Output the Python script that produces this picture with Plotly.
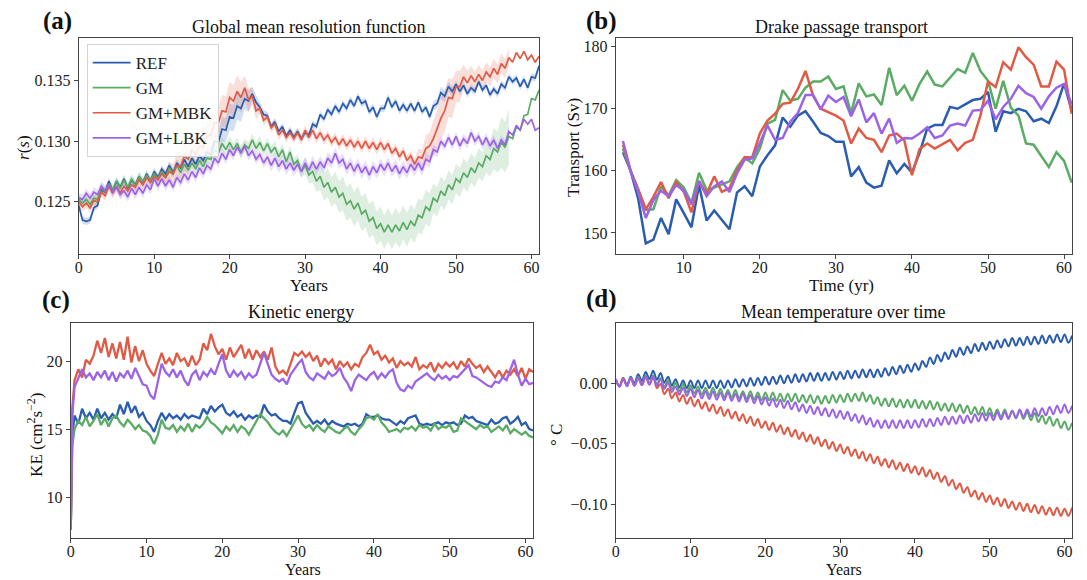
import plotly.graph_objects as go

FONT = "Liberation Serif"
W, H = 1087, 580

SERIES = ["REF", "GM", "GM+MBK", "GM+LBK"]
COLORS = {"REF": "#2a5db0", "GM": "#5aab63", "GM+MBK": "#e05a45", "GM+LBK": "#9b63e6"}
BAND_COLORS = {"REF": "rgba(42,93,176,0.2)", "GM": "rgba(90,171,99,0.2)",
               "GM+MBK": "rgba(224,90,69,0.2)", "GM+LBK": "rgba(155,99,230,0.2)"}

# ---------------- (a) global mean resolution function r(s), half-year samples ----------------
years_a = [0.5 * k for k in range(123)]
res_ref = [
    0.1247, 0.1235, 0.1234, 0.1235, 0.1245, 0.1247, 0.1260, 0.1258, 0.1267, 0.1259,
    0.1267, 0.1262, 0.1269, 0.1261, 0.1268, 0.1264, 0.1271, 0.1266, 0.1273, 0.1267,
    0.1275, 0.1270, 0.1277, 0.1273, 0.1280, 0.1274, 0.1282, 0.1278, 0.1285, 0.1279,
    0.1286, 0.1281, 0.1288, 0.1284, 0.1291, 0.1289, 0.1300, 0.1299, 0.1310, 0.1309,
    0.1320, 0.1319, 0.1329, 0.1327, 0.1335, 0.1333, 0.1339, 0.1332, 0.1328, 0.1322,
    0.1321, 0.1312, 0.1316, 0.1308, 0.1312, 0.1304, 0.1309, 0.1303, 0.1308, 0.1302,
    0.1307, 0.1305, 0.1314, 0.1312, 0.1322, 0.1318, 0.1326, 0.1322, 0.1329, 0.1324,
    0.1331, 0.1327, 0.1334, 0.1329, 0.1337, 0.1331, 0.1333, 0.1324, 0.1328, 0.1320,
    0.1327, 0.1327, 0.1336, 0.1328, 0.1333, 0.1325, 0.1330, 0.1325, 0.1331, 0.1325,
    0.1332, 0.1324, 0.1328, 0.1320, 0.1329, 0.1331, 0.1340, 0.1337, 0.1345, 0.1341,
    0.1347, 0.1341, 0.1346, 0.1339, 0.1344, 0.1341, 0.1349, 0.1342, 0.1346, 0.1338,
    0.1343, 0.1339, 0.1347, 0.1344, 0.1353, 0.1349, 0.1352, 0.1345, 0.1351, 0.1344,
    0.1353, 0.1352, 0.1362,
]
res_gm = [
    0.1252, 0.1249, 0.1252, 0.1248, 0.1253, 0.1252, 0.1262, 0.1258, 0.1265, 0.1260,
    0.1267, 0.1261, 0.1268, 0.1262, 0.1269, 0.1263, 0.1271, 0.1266, 0.1272, 0.1267,
    0.1273, 0.1269, 0.1275, 0.1270, 0.1278, 0.1273, 0.1280, 0.1274, 0.1281, 0.1276,
    0.1282, 0.1277, 0.1284, 0.1279, 0.1286, 0.1285, 0.1293, 0.1290, 0.1298, 0.1293,
    0.1299, 0.1293, 0.1298, 0.1291, 0.1297, 0.1294, 0.1301, 0.1294, 0.1299, 0.1292,
    0.1298, 0.1291, 0.1295, 0.1287, 0.1293, 0.1283, 0.1291, 0.1281, 0.1284, 0.1275,
    0.1280, 0.1272, 0.1275, 0.1267, 0.1271, 0.1262, 0.1266, 0.1258, 0.1262, 0.1254,
    0.1257, 0.1248, 0.1251, 0.1244, 0.1249, 0.1240, 0.1243, 0.1234, 0.1237, 0.1228,
    0.1232, 0.1225, 0.1231, 0.1225, 0.1231, 0.1226, 0.1233, 0.1227, 0.1234, 0.1230,
    0.1239, 0.1237, 0.1246, 0.1243, 0.1253, 0.1250, 0.1259, 0.1255, 0.1264, 0.1260,
    0.1269, 0.1266, 0.1274, 0.1270, 0.1278, 0.1274, 0.1282, 0.1279, 0.1288, 0.1285,
    0.1294, 0.1291, 0.1299, 0.1295, 0.1304, 0.1302, 0.1312, 0.1309, 0.1321, 0.1322,
    0.1335, 0.1334, 0.1342,
]
res_mbk = [
    0.1250, 0.1246, 0.1249, 0.1245, 0.1251, 0.1250, 0.1258, 0.1255, 0.1263, 0.1257,
    0.1263, 0.1257, 0.1263, 0.1259, 0.1264, 0.1262, 0.1268, 0.1264, 0.1270, 0.1266,
    0.1271, 0.1268, 0.1273, 0.1270, 0.1275, 0.1273, 0.1280, 0.1279, 0.1288, 0.1285,
    0.1293, 0.1289, 0.1296, 0.1295, 0.1304, 0.1305, 0.1315, 0.1315, 0.1325, 0.1324,
    0.1336, 0.1333, 0.1341, 0.1336, 0.1344, 0.1334, 0.1337, 0.1325, 0.1327, 0.1317,
    0.1320, 0.1311, 0.1314, 0.1305, 0.1309, 0.1303, 0.1307, 0.1302, 0.1307, 0.1301,
    0.1309, 0.1303, 0.1309, 0.1302, 0.1307, 0.1301, 0.1305, 0.1299, 0.1303, 0.1297,
    0.1302, 0.1296, 0.1301, 0.1295, 0.1300, 0.1294, 0.1300, 0.1294, 0.1299, 0.1293,
    0.1299, 0.1293, 0.1298, 0.1290, 0.1294, 0.1287, 0.1292, 0.1284, 0.1288, 0.1281,
    0.1287, 0.1286, 0.1294, 0.1296, 0.1302, 0.1310, 0.1319, 0.1325, 0.1336, 0.1335,
    0.1345, 0.1345, 0.1353, 0.1348, 0.1354, 0.1349, 0.1355, 0.1350, 0.1357, 0.1353,
    0.1360, 0.1355, 0.1364, 0.1360, 0.1369, 0.1365, 0.1373, 0.1368, 0.1374, 0.1367,
    0.1371, 0.1365, 0.1370,
]
res_lbk = [
    0.1253, 0.1252, 0.1257, 0.1253, 0.1258, 0.1256, 0.1263, 0.1259, 0.1264, 0.1258,
    0.1262, 0.1256, 0.1259, 0.1254, 0.1261, 0.1256, 0.1262, 0.1257, 0.1264, 0.1260,
    0.1269, 0.1263, 0.1269, 0.1263, 0.1268, 0.1262, 0.1270, 0.1266, 0.1273, 0.1268,
    0.1275, 0.1270, 0.1278, 0.1273, 0.1280, 0.1277, 0.1286, 0.1282, 0.1290, 0.1285,
    0.1293, 0.1288, 0.1295, 0.1290, 0.1296, 0.1288, 0.1292, 0.1285, 0.1289, 0.1282,
    0.1287, 0.1280, 0.1286, 0.1279, 0.1284, 0.1277, 0.1282, 0.1276, 0.1281, 0.1275,
    0.1282, 0.1276, 0.1283, 0.1277, 0.1283, 0.1278, 0.1286, 0.1282, 0.1290, 0.1282,
    0.1285, 0.1277, 0.1282, 0.1275, 0.1281, 0.1274, 0.1279, 0.1272, 0.1279, 0.1274,
    0.1281, 0.1276, 0.1282, 0.1275, 0.1280, 0.1273, 0.1279, 0.1274, 0.1281, 0.1276,
    0.1282, 0.1276, 0.1285, 0.1283, 0.1293, 0.1291, 0.1300, 0.1296, 0.1303, 0.1297,
    0.1304, 0.1296, 0.1302, 0.1298, 0.1307, 0.1300, 0.1304, 0.1297, 0.1303, 0.1296,
    0.1301, 0.1294, 0.1301, 0.1297, 0.1308, 0.1305, 0.1313, 0.1309, 0.1318, 0.1314,
    0.1318, 0.1309, 0.1311,
]
# ensemble spread (half-width) for each whole year of the run
spread_ref = [
    0.0003, 0.0003, 0.0003, 0.0003, 0.0003, 0.0003, 0.0003, 0.0003, 0.0003, 0.0003,
    0.0003, 0.0003, 0.0003, 0.0003, 0.0003, 0.0003, 0.0003, 0.0005, 0.0008, 0.0010,
    0.0011, 0.0011, 0.0009, 0.0006, 0.0004, 0.0003, 0.0003, 0.0003, 0.0003, 0.0003,
    0.0003, 0.0003, 0.0003, 0.0003, 0.0003, 0.0003, 0.0003, 0.0003, 0.0003, 0.0003,
    0.0003, 0.0003, 0.0003, 0.0003, 0.0003, 0.0003, 0.0003, 0.0004, 0.0005, 0.0004,
    0.0003, 0.0003, 0.0003, 0.0003, 0.0003, 0.0003, 0.0003, 0.0003, 0.0003, 0.0003,
    0.0003, 0.0003,
]
spread_gm = [
    0.0004, 0.0004, 0.0004, 0.0004, 0.0004, 0.0004, 0.0004, 0.0004, 0.0004, 0.0004,
    0.0004, 0.0004, 0.0004, 0.0004, 0.0004, 0.0004, 0.0004, 0.0004, 0.0005, 0.0005,
    0.0005, 0.0005, 0.0005, 0.0005, 0.0005, 0.0005, 0.0005, 0.0005, 0.0005, 0.0005,
    0.0007, 0.0009, 0.0011, 0.0012, 0.0013, 0.0014, 0.0014, 0.0014, 0.0014, 0.0014,
    0.0014, 0.0014, 0.0014, 0.0014, 0.0014, 0.0014, 0.0014, 0.0012, 0.0012, 0.0012,
    0.0012, 0.0012, 0.0012, 0.0012, 0.0014, 0.0017, 0.0021, 0.0023,
]
spread_mbk = [
    0.0004, 0.0004, 0.0004, 0.0004, 0.0004, 0.0004, 0.0004, 0.0004, 0.0004, 0.0004,
    0.0004, 0.0006, 0.0008, 0.0010, 0.0013, 0.0013, 0.0013, 0.0013, 0.0013, 0.0013,
    0.0013, 0.0013, 0.0010, 0.0007, 0.0004, 0.0004, 0.0004, 0.0004, 0.0004, 0.0004,
    0.0004, 0.0004, 0.0004, 0.0004, 0.0004, 0.0004, 0.0004, 0.0004, 0.0004, 0.0004,
    0.0004, 0.0004, 0.0004, 0.0004, 0.0004, 0.0007, 0.0011, 0.0015, 0.0017, 0.0016,
    0.0013, 0.0010, 0.0008, 0.0008, 0.0008, 0.0008, 0.0008, 0.0008,
]
spread_lbk = [
    0.0004, 0.0004, 0.0004, 0.0004, 0.0004, 0.0004, 0.0004, 0.0004, 0.0004, 0.0004,
    0.0004, 0.0004, 0.0004, 0.0004, 0.0004, 0.0004, 0.0004, 0.0004, 0.0004, 0.0004,
    0.0004, 0.0004, 0.0004, 0.0004, 0.0004, 0.0005, 0.0005, 0.0005, 0.0005, 0.0005,
    0.0005, 0.0005, 0.0005, 0.0005, 0.0005, 0.0005, 0.0005, 0.0005, 0.0005, 0.0005,
    0.0005, 0.0005, 0.0005, 0.0005, 0.0005, 0.0005, 0.0005, 0.0004, 0.0004, 0.0004,
    0.0004, 0.0004, 0.0004, 0.0004, 0.0004, 0.0004, 0.0004, 0.0004,
]

# ---------------- (b) Drake passage transport (Sv), yearly ----------------
years_b = list(range(2, 62))
drake_ref = [
    163.0, 160.0, 155.5, 148.3, 148.9, 152.4, 149.8, 155.4, 153.2, 150.9,
    157.7, 152.0, 153.6, 152.1, 150.6, 156.5, 157.5, 155.9, 160.7, 162.5,
    164.1, 168.6, 167.1, 168.9, 169.6, 167.9, 166.1, 165.6, 164.7, 164.7,
    159.1, 160.6, 158.1, 157.3, 157.6, 161.7, 159.6, 161.1, 159.7, 162.9,
    166.8, 167.4, 167.4, 170.3, 170.0, 170.7, 171.4, 171.6, 172.7, 166.3,
    169.6, 169.3, 170.0, 169.6, 168.0, 168.4, 167.7, 170.4, 174.1, 169.7,
]
drake_gm = [
    163.6, 160.0, 157.0, 153.7, 153.8, 157.5, 156.0, 158.5, 157.3, 154.8,
    159.7, 156.9, 157.3, 157.8, 158.3, 160.6, 162.2, 161.2, 163.6, 167.6,
    168.2, 173.0, 171.3, 171.6, 173.4, 174.4, 174.4, 175.2, 173.2, 173.6,
    169.3, 174.1, 172.0, 172.3, 170.6, 176.6, 172.2, 173.7, 171.3, 174.0,
    176.0, 173.9, 173.6, 175.0, 176.4, 175.8, 179.0, 176.1, 174.5, 170.0,
    174.5, 170.2, 168.9, 164.4, 164.2, 162.4, 160.6, 163.0, 161.6, 158.1,
]
drake_mbk = [
    164.2, 160.0, 157.0, 153.8, 155.8, 158.2, 155.6, 158.2, 156.6, 153.3,
    158.4, 156.3, 159.1, 156.6, 157.2, 160.1, 162.2, 162.2, 166.0, 168.1,
    169.2, 170.8, 171.0, 173.2, 176.1, 172.1, 170.0, 169.5, 168.9, 168.1,
    164.4, 166.8, 165.3, 165.0, 163.0, 165.7, 166.0, 164.9, 159.3, 163.5,
    164.4, 163.6, 164.3, 165.0, 163.3, 164.5, 165.0, 168.9, 174.4, 173.5,
    177.5, 176.3, 179.9, 178.3, 177.1, 173.6, 173.6, 177.6, 176.3, 169.2,
]
drake_lbk = [
    164.8, 160.0, 156.5, 152.4, 155.3, 156.8, 155.9, 157.7, 156.8, 154.6,
    158.3, 155.9, 157.5, 158.3, 156.6, 159.6, 161.8, 162.0, 164.5, 167.3,
    165.0, 165.3, 167.9, 169.3, 172.2, 172.2, 169.9, 172.1, 171.1, 171.9,
    168.8, 171.5, 167.8, 169.3, 166.0, 168.4, 164.5, 165.3, 165.2, 166.0,
    167.0, 165.3, 165.7, 167.3, 167.6, 167.3, 169.7, 169.8, 171.3, 168.3,
    170.3, 171.6, 173.7, 172.5, 171.9, 170.0, 172.0, 173.4, 174.0, 170.7,
]

# ---------------- (c) kinetic energy (cm^2 s^-2) ----------------
years_c = [0.0, 0.2] + [0.5 * k for k in range(1, 123)]
ke_ref = [
    7.7, 14.5,
    16.0, 15.4, 16.5, 15.8, 16.2, 15.7, 16.5, 15.8, 16.2, 15.7,
    16.1, 15.8, 16.8, 16.1, 17.0, 16.2, 16.7, 15.9, 16.2, 15.6,
    15.3, 14.8, 15.6, 16.2, 15.7, 16.1, 15.8, 16.0, 15.7, 16.1,
    15.8, 16.0, 15.9, 15.8, 16.5, 16.1, 16.7, 16.3, 16.6, 16.8,
    16.2, 16.0, 16.3, 15.9, 16.1, 15.7, 16.0, 15.8, 16.0, 15.9,
    16.8, 16.3, 16.0, 16.1, 15.8, 15.6, 15.6, 15.4, 16.2, 16.9,
    17.0, 16.2, 15.8, 15.4, 15.6, 15.4, 15.7, 15.3, 15.6, 15.4,
    15.3, 15.2, 15.4, 15.3, 15.4, 15.2, 15.4, 16.1, 15.9, 15.9,
    16.0, 15.8, 15.7, 15.7, 15.5, 15.3, 15.6, 15.4, 15.8, 15.9,
    16.0, 15.4, 15.3, 15.4, 15.3, 15.4, 15.5, 15.3, 15.5, 15.4,
    15.5, 15.3, 15.4, 16.0, 15.8, 15.9, 15.6, 15.5, 15.4, 15.3,
    15.7, 15.4, 15.5, 15.8, 15.9, 15.4, 15.6, 15.9, 15.3, 15.5,
    15.0, 14.9,
]
ke_gm = [
    7.6, 13.8,
    15.0, 15.6, 15.3, 15.9, 15.2, 15.6, 16.1, 15.3, 15.8, 15.2,
    15.8, 16.0, 15.5, 15.2, 15.7, 15.4, 15.0, 15.3, 14.9, 14.8,
    14.5, 13.9, 14.6, 15.7, 15.1, 15.0, 15.3, 14.8, 15.2, 14.9,
    15.4, 14.8, 15.3, 15.1, 15.4, 15.9, 15.5, 15.3, 15.0, 14.7,
    15.2, 14.9, 15.3, 14.8, 15.2, 15.0, 14.6, 15.1, 15.5, 16.1,
    15.8, 15.5, 15.1, 14.8, 14.6, 14.9, 14.5, 15.0, 15.4, 16.0,
    15.4, 15.1, 15.3, 14.9, 15.3, 15.0, 14.8, 15.2, 15.0, 14.8,
    14.7, 15.0, 15.2, 14.8, 14.6, 15.0, 15.3, 15.8, 15.9, 15.7,
    16.1, 15.5, 15.2, 14.8, 14.9, 15.0, 14.8, 15.1, 15.0, 15.2,
    14.9, 15.3, 15.1, 15.2, 14.9, 15.4, 15.0, 15.2, 15.1, 15.3,
    14.8, 14.9, 15.8, 15.6, 15.4, 15.2, 15.0, 15.3, 15.1, 15.2,
    14.8, 15.0, 15.2, 14.9, 15.3, 14.7, 15.0, 14.8, 14.6, 14.8,
    14.5, 14.4,
]
ke_mbk = [
    7.6, 16.5,
    18.6, 19.4, 18.8, 20.1, 19.8, 20.4, 21.5, 20.6, 21.7, 20.3,
    21.3, 20.2, 21.4, 20.1, 21.8, 19.9, 21.1, 20.0, 20.8, 19.8,
    19.3, 18.9, 19.8, 20.6, 19.8, 20.2, 19.7, 20.6, 20.0, 20.2,
    19.6, 20.4, 19.7, 20.1, 21.3, 20.8, 22.0, 21.1, 20.5, 20.9,
    20.1, 21.0, 20.3, 20.8, 21.2, 20.2, 20.9, 20.1, 20.8, 20.3,
    20.7, 20.1, 21.0, 19.6, 19.1, 19.3, 19.0, 19.8, 20.6, 20.4,
    20.7, 20.3, 20.6, 20.0, 20.4, 19.6, 20.2, 19.8, 20.1, 19.4,
    20.0, 19.6, 19.9, 19.4, 19.8, 19.6, 20.3, 20.6, 21.2, 20.5,
    20.7, 20.1, 20.4, 19.9, 20.2, 19.5, 20.0, 19.7, 19.9, 19.6,
    20.3, 19.4, 19.7, 19.5, 19.9, 19.2, 19.8, 19.5, 19.9, 19.6,
    19.9, 19.4, 20.0, 19.6, 20.2, 19.8, 19.5, 19.7, 19.2, 19.6,
    19.2, 18.8, 19.3, 18.8, 19.3, 19.0, 19.4, 18.9, 19.5, 18.7,
    19.4, 19.2,
]
ke_lbk = [
    7.8, 16.0,
    18.1, 18.7, 19.4, 18.8, 19.1, 18.6, 19.2, 18.8, 19.3, 18.6,
    19.2, 18.5, 19.1, 18.8, 19.3, 18.7, 19.5, 18.9, 18.3, 18.2,
    17.5, 17.2, 18.4, 19.8, 19.2, 18.9, 19.4, 18.8, 19.3, 18.6,
    18.2, 19.0, 19.3, 18.6, 19.2, 18.9, 19.4, 19.0, 19.8, 20.5,
    19.3, 18.8, 19.3, 18.9, 19.2, 18.7, 19.1, 18.8, 19.0, 19.8,
    20.6, 19.8, 19.0, 18.7, 18.5, 18.7, 18.3, 19.0, 19.4, 19.8,
    20.1, 19.2, 18.8, 18.6, 19.1, 18.9, 18.7, 19.2, 18.9, 19.1,
    19.5, 18.8, 18.4, 17.8, 18.6, 19.0, 18.8, 18.6, 19.0, 19.2,
    18.7, 19.1, 18.8, 19.2, 19.4, 18.4, 17.9, 17.8, 18.2, 18.0,
    18.5, 18.7, 18.9, 19.1, 18.8, 18.6, 19.0, 18.7, 18.9, 18.6,
    18.9, 18.8, 19.1, 19.4, 19.7, 18.9, 18.8, 18.6, 18.4, 18.2,
    18.1, 18.5, 18.4, 18.8, 18.6, 19.4, 20.1, 19.0, 18.2, 18.7,
    18.3, 18.4,
]

# ---------------- (d) mean temperature anomaly (deg C), seasonal highs and lows ----------------
years_d = [0.5 * k for k in range(123)]
temp_ref = [
    0.0032, -0.0027, 0.0042, -0.0017, 0.0052, -0.0002, 0.0072, 0.0018, 0.0092, 0.0033,
    0.0102, 0.0028, 0.0082, 0.0003, 0.0052, -0.0022, 0.0032, -0.0037, 0.0022, -0.0042,
    0.0022, -0.0042, 0.0022, -0.0042, 0.0022, -0.0042, 0.0022, -0.0042, 0.0022, -0.0042,
    0.0022, -0.0037, 0.0032, -0.0032, 0.0032, -0.0027, 0.0042, -0.0022, 0.0042, -0.0017,
    0.0052, -0.0012, 0.0052, -0.0007, 0.0062, -0.0002, 0.0062, 0.0003, 0.0072, 0.0008,
    0.0072, 0.0013, 0.0082, 0.0018, 0.0082, 0.0018, 0.0082, 0.0023, 0.0092, 0.0028,
    0.0092, 0.0033, 0.0102, 0.0038, 0.0102, 0.0043, 0.0112, 0.0048, 0.0112, 0.0048,
    0.0112, 0.0053, 0.0122, 0.0063, 0.0132, 0.0073, 0.0142, 0.0083, 0.0152, 0.0093,
    0.0162, 0.0108, 0.0182, 0.0133, 0.0212, 0.0158, 0.0232, 0.0178, 0.0252, 0.0198,
    0.0272, 0.0218, 0.0292, 0.0233, 0.0302, 0.0248, 0.0322, 0.0263, 0.0332, 0.0273,
    0.0342, 0.0283, 0.0352, 0.0293, 0.0362, 0.0303, 0.0372, 0.0308, 0.0372, 0.0313,
    0.0382, 0.0318, 0.0382, 0.0323, 0.0392, 0.0328, 0.0392, 0.0333, 0.0402, 0.0338,
    0.0402, 0.0333, 0.0392,
]
temp_gm = [
    0.0032, -0.0027, 0.0042, -0.0022, 0.0042, -0.0017, 0.0052, -0.0007, 0.0062, -0.0002,
    0.0062, -0.0012, 0.0042, -0.0032, 0.0022, -0.0052, 0.0002, -0.0067, -0.0008, -0.0077,
    -0.0018, -0.0087, -0.0028, -0.0097, -0.0038, -0.0102, -0.0038, -0.0107, -0.0048, -0.0117,
    -0.0058, -0.0122, -0.0058, -0.0127, -0.0068, -0.0132, -0.0068, -0.0137, -0.0078, -0.0142,
    -0.0078, -0.0142, -0.0078, -0.0147, -0.0088, -0.0152, -0.0088, -0.0152, -0.0088, -0.0157,
    -0.0098, -0.0162, -0.0098, -0.0167, -0.0108, -0.0172, -0.0108, -0.0167, -0.0098, -0.0162,
    -0.0098, -0.0157, -0.0088, -0.0152, -0.0088, -0.0147, -0.0078, -0.0152, -0.0098, -0.0172,
    -0.0118, -0.0187, -0.0128, -0.0192, -0.0128, -0.0197, -0.0138, -0.0202, -0.0138, -0.0202,
    -0.0138, -0.0207, -0.0148, -0.0212, -0.0148, -0.0217, -0.0158, -0.0227, -0.0168, -0.0232,
    -0.0168, -0.0237, -0.0178, -0.0247, -0.0188, -0.0257, -0.0198, -0.0262, -0.0198, -0.0267,
    -0.0208, -0.0277, -0.0218, -0.0282, -0.0218, -0.0287, -0.0228, -0.0292, -0.0228, -0.0297,
    -0.0238, -0.0307, -0.0248, -0.0322, -0.0268, -0.0337, -0.0278, -0.0352, -0.0298, -0.0372,
    -0.0318, -0.0387, -0.0328,
]
temp_mbk = [
    0.0032, -0.0027, 0.0042, -0.0022, 0.0042, -0.0022, 0.0042, -0.0017, 0.0052, -0.0012,
    0.0052, -0.0042, -0.0008, -0.0092, -0.0048, -0.0127, -0.0078, -0.0152, -0.0098, -0.0172,
    -0.0118, -0.0192, -0.0138, -0.0212, -0.0158, -0.0232, -0.0178, -0.0252, -0.0198, -0.0272,
    -0.0218, -0.0292, -0.0238, -0.0312, -0.0258, -0.0332, -0.0278, -0.0352, -0.0298, -0.0372,
    -0.0318, -0.0387, -0.0328, -0.0402, -0.0348, -0.0422, -0.0368, -0.0442, -0.0388, -0.0462,
    -0.0408, -0.0482, -0.0428, -0.0502, -0.0448, -0.0522, -0.0468, -0.0542, -0.0488, -0.0562,
    -0.0508, -0.0582, -0.0528, -0.0602, -0.0548, -0.0622, -0.0568, -0.0642, -0.0588, -0.0662,
    -0.0608, -0.0682, -0.0628, -0.0697, -0.0638, -0.0712, -0.0658, -0.0727, -0.0668, -0.0742,
    -0.0688, -0.0757, -0.0698, -0.0772, -0.0718, -0.0792, -0.0738, -0.0817, -0.0768, -0.0847,
    -0.0798, -0.0877, -0.0828, -0.0907, -0.0858, -0.0937, -0.0888, -0.0962, -0.0908, -0.0982,
    -0.0928, -0.1002, -0.0948, -0.1017, -0.0958, -0.1032, -0.0978, -0.1047, -0.0988, -0.1057,
    -0.0998, -0.1067, -0.1008, -0.1077, -0.1018, -0.1087, -0.1028, -0.1092, -0.1028, -0.1097,
    -0.1038, -0.1097, -0.1028,
]
temp_lbk = [
    0.0032, -0.0032, 0.0032, -0.0027, 0.0042, -0.0022, 0.0042, -0.0017, 0.0052, -0.0012,
    0.0052, -0.0022, 0.0032, -0.0047, 0.0002, -0.0077, -0.0028, -0.0097, -0.0038, -0.0107,
    -0.0048, -0.0117, -0.0058, -0.0127, -0.0068, -0.0132, -0.0068, -0.0137, -0.0078, -0.0142,
    -0.0078, -0.0147, -0.0088, -0.0152, -0.0088, -0.0157, -0.0098, -0.0167, -0.0108, -0.0177,
    -0.0118, -0.0187, -0.0128, -0.0197, -0.0138, -0.0207, -0.0148, -0.0217, -0.0158, -0.0232,
    -0.0178, -0.0247, -0.0188, -0.0257, -0.0198, -0.0267, -0.0208, -0.0277, -0.0218, -0.0287,
    -0.0228, -0.0297, -0.0238, -0.0312, -0.0258, -0.0327, -0.0268, -0.0342, -0.0288, -0.0362,
    -0.0308, -0.0372, -0.0308, -0.0372, -0.0308, -0.0372, -0.0308, -0.0372, -0.0308, -0.0372,
    -0.0308, -0.0367, -0.0298, -0.0362, -0.0298, -0.0357, -0.0288, -0.0347, -0.0278, -0.0342,
    -0.0278, -0.0337, -0.0268, -0.0332, -0.0268, -0.0327, -0.0258, -0.0317, -0.0248, -0.0312,
    -0.0248, -0.0307, -0.0238, -0.0302, -0.0238, -0.0297, -0.0228, -0.0287, -0.0218, -0.0282,
    -0.0218, -0.0277, -0.0208, -0.0272, -0.0208, -0.0267, -0.0198, -0.0257, -0.0188, -0.0247,
    -0.0178, -0.0247, -0.0188,
]

res = dict(zip(SERIES, [res_ref, res_gm, res_mbk, res_lbk]))
spread = dict(zip(SERIES, [spread_ref, spread_gm, spread_mbk, spread_lbk]))
drake = dict(zip(SERIES, [drake_ref, drake_gm, drake_mbk, drake_lbk]))
ke = dict(zip(SERIES, [ke_ref, ke_gm, ke_mbk, ke_lbk]))
temp = dict(zip(SERIES, [temp_ref, temp_gm, temp_mbk, temp_lbk]))

for label, xs, table in [("a", years_a, res), ("b", years_b, drake),
                         ("c", years_c, ke), ("d", years_d, temp)]:
    for name, ys in table.items():
        if len(ys) != len(xs):
            raise ValueError(f"panel {label} {name}: {len(ys)} values for {len(xs)} times")

fig = go.Figure()

# (a) shaded ensemble spread, then the mean lines
for name in SERIES:
    s = spread[name]
    pts = [(x, y) for x, y in zip(years_a, res[name]) if x <= len(s) - 1]
    bx = [p[0] for p in pts]
    upper = [p[1] + s[int(p[0])] for p in pts]
    lower = [p[1] - s[int(p[0])] for p in pts]
    fig.add_trace(go.Scatter(
        x=bx + bx[::-1], y=upper + lower[::-1], fill="toself", mode="none",
        fillcolor=BAND_COLORS[name], showlegend=False, hoverinfo="skip",
        xaxis="x", yaxis="y"))
for name in SERIES:
    fig.add_trace(go.Scatter(
        x=years_a, y=res[name], mode="lines", name=name,
        line=dict(color=COLORS[name], width=1.7), xaxis="x", yaxis="y"))

for name in SERIES:
    fig.add_trace(go.Scatter(
        x=years_b, y=drake[name], mode="lines", showlegend=False,
        line=dict(color=COLORS[name], width=2.5), xaxis="x2", yaxis="y2"))

for name in SERIES:
    fig.add_trace(go.Scatter(
        x=years_c, y=ke[name], mode="lines", showlegend=False,
        line=dict(color=COLORS[name], width=2.3), xaxis="x3", yaxis="y3"))

for name in SERIES:
    fig.add_trace(go.Scatter(
        x=years_d, y=temp[name], mode="lines", showlegend=False,
        line=dict(color=COLORS[name], width=2, shape="spline", smoothing=1.0),
        xaxis="x4", yaxis="y4"))


def px_x(p):
    return p / W


def px_y(p):
    return 1 - p / H


AXIS_STYLE = dict(
    showline=True, mirror=True, linecolor="#444444", linewidth=1,
    ticks="outside", ticklen=4, tickwidth=1, tickcolor="#444444",
    showgrid=False, zeroline=False,
    tickfont=dict(family=FONT, size=16, color="#222222"),
)
X_STYLE = dict(AXIS_STYLE, ticklabelstandoff=-5)

dom_a = ([px_x(75), px_x(537)], [px_y(254), px_y(38)])
dom_b = ([px_x(614), px_x(1072)], [px_y(254), px_y(38)])
dom_c = ([px_x(67), px_x(531)], [px_y(538), px_y(323)])
dom_d = ([px_x(614), px_x(1072)], [px_y(538), px_y(323)])

fig.update_layout(
    width=W, height=H, margin=dict(l=0, r=0, t=0, b=0),
    paper_bgcolor="white", plot_bgcolor="white",
    font=dict(family=FONT, color="#222222"),
    xaxis=dict(domain=dom_a[0], anchor="y", range=[0, 61], tickvals=[0, 10, 20, 30, 40, 50, 60], **X_STYLE),
    yaxis=dict(domain=dom_a[1], anchor="x", range=[0.1207, 0.1385], tickvals=[0.125, 0.130, 0.135],
               tickformat=".3f", **AXIS_STYLE),
    xaxis2=dict(domain=dom_b[0], anchor="y2", range=[1.05, 61.05], tickvals=[10, 20, 30, 40, 50, 60], **X_STYLE),
    yaxis2=dict(domain=dom_b[1], anchor="x2", range=[146.6, 181.4], tickvals=[150, 160, 170, 180], **AXIS_STYLE),
    xaxis3=dict(domain=dom_c[0], anchor="y3", range=[0, 61], tickvals=[0, 10, 20, 30, 40, 50, 60], **X_STYLE),
    yaxis3=dict(domain=dom_c[1], anchor="x3", range=[7.0, 22.8], tickvals=[10, 15, 20], **AXIS_STYLE),
    xaxis4=dict(domain=dom_d[0], anchor="y4", range=[0, 61], tickvals=[0, 10, 20, 30, 40, 50, 60], **X_STYLE),
    yaxis4=dict(domain=dom_d[1], anchor="x4", range=[-0.128, 0.0496], tickvals=[-0.10, -0.05, 0.0],
                tickformat=".2f", **AXIS_STYLE),
    legend=dict(
        x=px_x(83), y=px_y(44), xanchor="left", yanchor="top",
        bgcolor="rgba(255,255,255,0.85)", bordercolor="#d4d4d4", borderwidth=1,
        font=dict(family=FONT, size=17, color="#222222"), itemwidth=38,
    ),
)

annotations = []


def text(x, y, s, size, angle=0, bold=False):
    annotations.append(dict(
        x=px_x(x), y=px_y(y), xref="paper", yref="paper", text=f"<b>{s}</b>" if bold else s,
        showarrow=False, xanchor="center", yanchor="middle", textangle=angle,
        font=dict(family=FONT, size=size, color="#111111")))


# panel titles
text(306, 27, "Global mean resolution function", 18)
text(841, 27, "Drake passage transport", 18)
text(298, 312, "Kinetic energy", 18)
text(842, 312, "Mean temperature over time", 18)
# panel letters
text(54, 21, "(a)", 25, bold=True)
text(600, 21, "(b)", 25, bold=True)
text(52, 300, "(c)", 25, bold=True)
text(600, 299, "(d)", 25, bold=True)
# axis titles
text(306, 285, "Years", 17)
text(841, 285, "Time (yr)", 17)
text(300, 569, "Years", 16)
text(843, 569, "Years", 16)
text(19, 147, "<i>r</i>(<i>s</i>)", 17, angle=-90)
text(571, 147, "Transport (Sv)", 17, angle=-90)
text(31, 435, "KE (cm<sup>2</sup>s<sup>−2</sup>)", 17, angle=-90)
text(554, 435, "° C", 17, angle=-90)

fig.update_layout(annotations=annotations)

fig.write_html("out.html")
